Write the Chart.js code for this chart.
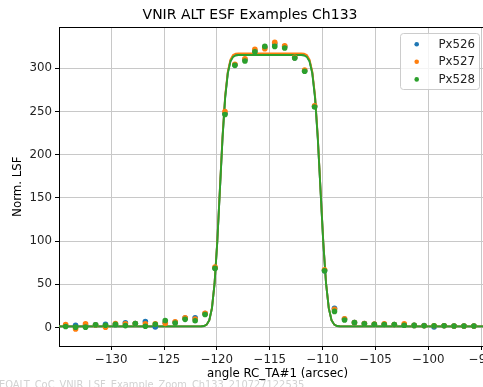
<!DOCTYPE html>
<html>
<head>
<meta charset="utf-8">
<title>VNIR ALT ESF Examples Ch133</title>
<script src="https://cdn.jsdelivr.net/npm/chart.js@4/dist/chart.umd.min.js"></script>
<style>
      html, body { margin: 0; padding: 0; background: #fff; overflow: hidden; }
      #wrap { width: 500px; height: 387px; }
</style>
</head>
<body>
<div id="wrap"><canvas id="esfChart" width="500" height="387"></canvas></div>
<script>
// Sample angles (arcsec) for the measured points
let sampleAngles = [
      -134.31, -133.37, -132.43, -131.48, -130.54, -129.60, -128.66, -127.72, -126.77, -125.83,
      -124.89, -123.95, -123.01, -122.06, -121.12, -120.18, -119.24, -118.30, -117.35, -116.41,
      -115.47, -114.53, -113.59, -112.64, -111.70, -110.76, -109.82, -108.88, -107.93, -106.99,
      -106.05, -105.11, -104.17, -103.22, -102.28, -101.34, -100.40, -99.46, -98.51, -97.57,
      -96.63, -95.69
];
let px526 = [
      2.0, 2.6, 2.5, 3.4, 4.0, 3.8, 5.6, 4.8, 7.2, 0.8,
      6.0, 6.2, 11.0, 11.5, 16.2, 69.0, 248.0, 304.0, 310.0, 320.0,
      324.0, 328.0, 325.0, 312.0, 297.0, 256.0, 66.0, 22.4, 10.0, 6.0,
      4.8, 4.0, 4.0, 3.6, 3.0, 2.6, 2.4, 0.8, 2.2, 2.0,
      2.0, 2.0
];
let px527 = [
      3.6, -1.4, 4.6, 3.0, 0.6, 4.8, 4.6, 4.8, 4.6, 4.6,
      5.0, 6.9, 11.5, 10.0, 16.7, 70.0, 250.0, 304.5, 311.0, 321.8,
      322.5, 329.9, 326.0, 312.5, 298.0, 256.4, 67.0, 21.2, 10.2, 6.0,
      4.8, 4.2, 4.6, 3.6, 4.6, 2.6, 2.2, 2.2, 2.2, 2.0,
      2.0, 2.0
];
let px528 = [
      1.4, 0.6, 0.6, 3.4, 2.8, 3.8, 2.4, 4.8, 1.7, 4.0,
      8.2, 5.4, 9.6, 8.0, 15.3, 68.5, 246.5, 303.3, 308.3, 319.0,
      325.2, 325.2, 323.3, 311.8, 296.4, 255.2, 65.8, 18.8, 8.8, 5.8,
      4.6, 4.0, 3.6, 3.6, 2.8, 2.6, 2.2, 2.2, 2.2, 2.0,
      2.0, 2.0
];

// Fitted ESF curves
let fitAngles = [
      -136, -121.47, -121.22, -120.97, -120.72, -120.47, -120.22, -119.97, -119.72, -119.47,
      -119.22, -118.97, -118.72, -118.47, -118.22, -117.97, -112.02, -111.76, -111.50, -111.24,
      -110.98, -110.72, -110.46, -110.20, -109.94, -109.68, -109.42, -109.16, -108.90, -108.64,
      -108.38, -93
];
let fit526 = [
      1.5, 1.6, 1.9, 3.5, 8.7, 22.6, 51.6, 98.8, 159.3, 219.7,
      266.9, 295.1, 308.9, 314.2, 315.8, 316.2, 316.2, 315.8, 314.2, 308.9,
      295.1, 266.9, 219.7, 159.3, 98.8, 51.6, 22.6, 8.7, 3.5, 1.9,
      1.6, 1.5
];
let fit527 = [
      1.5, 1.6, 1.9, 3.5, 8.7, 22.7, 51.8, 99.3, 160.0, 220.7,
      268.2, 296.0, 310.0, 315.3, 316.8, 317.2, 317.2, 316.8, 315.3, 310.0,
      296.0, 268.2, 220.7, 160.0, 99.3, 51.8, 22.7, 8.7, 3.5, 1.9,
      1.6, 1.5
];
let fit528 = [
      1.5, 1.6, 1.9, 3.5, 8.7, 22.5, 51.4, 98.5, 158.8, 219.0,
      266.1, 294.1, 307.8, 313.1, 314.7, 315.2, 315.2, 314.7, 313.1, 307.8,
      294.1, 266.1, 219.0, 158.8, 98.5, 51.4, 22.5, 8.7, 3.5, 1.9,
      1.6, 1.5
];

let seriesNames = ["Px526", "Px527", "Px528"];
let seriesColors = ["#1f77b4", "#ff7f0e", "#2ca02c"];
let yTickValues = [0, 50, 100, 150, 200, 250, 300];
let xTickValues = [-130, -125, -120, -115, -110, -105, -100, -95];

let fontFamily = "'DejaVu Sans', sans-serif";
let toPoints = (xs, ys) => xs.map((x, i) => ({ x: x, y: ys[i] }));

let pointSets = [px526, px527, px528];
let fitSets = [fit526, fit527, fit528];

let datasets = [];
pointSets.forEach((values, i) => {
      datasets.push({
            label: seriesNames[i],
            type: "scatter",
            data: toPoints(sampleAngles, values),
            backgroundColor: seriesColors[i],
            borderWidth: 0,
            pointRadius: 2.8,
            order: 2 - i
      });
});
fitSets.forEach((values, i) => {
      datasets.push({
            label: seriesNames[i] + " fit",
            type: "line",
            data: toPoints(fitAngles, values),
            borderColor: seriesColors[i],
            borderWidth: 1.9,
            pointRadius: 0,
            fill: false,
            order: 5 - i
      });
});

// Top spine, boxed legend and the file name stamp
let extras = {
      id: "extras",
      beforeDraw: (chart) => {
            let ctx = chart.ctx;
            ctx.save();
            ctx.font = "9.9px " + fontFamily;
            ctx.fillStyle = "#d2d2d2";
            ctx.textBaseline = "alphabetic";
            ctx.fillText("EOALT_CoC_VNIR_LSF_Example_Zoom_Ch133_210727122535", -1, 387.5);
            ctx.restore();
      },
      afterDraw: (chart) => {
            let ctx = chart.ctx;
            let area = chart.chartArea;
            ctx.save();
            ctx.strokeStyle = "#000";
            ctx.lineWidth = 1;
            ctx.beginPath();
            ctx.moveTo(area.left, Math.round(area.top) + 0.5);
            ctx.lineTo(area.right, Math.round(area.top) + 0.5);
            ctx.stroke();

            let bx = 400.5, by = 33.5, bw = 79, bh = 56;
            ctx.beginPath();
            ctx.roundRect(bx, by, bw, bh, 3);
            ctx.fillStyle = "rgba(255,255,255,0.8)";
            ctx.fill();
            ctx.strokeStyle = "#cccccc";
            ctx.stroke();
            ctx.font = "11.8px " + fontFamily;
            ctx.textBaseline = "middle";
            seriesNames.forEach((name, i) => {
                  let rowY = 44.2 + i * 17.6;
                  ctx.beginPath();
                  ctx.arc(416.7, rowY, 2.3, 0, Math.PI * 2);
                  ctx.fillStyle = seriesColors[i];
                  ctx.fill();
                  ctx.fillStyle = "#222";
                  ctx.fillText(name, 438.5, rowY + 0.5);
            });
            ctx.restore();
      }
};

let minusLabel = (v) => v < 0 ? "\u2212" + Math.abs(v) : String(v);

new Chart(document.getElementById("esfChart").getContext("2d"), {
      data: { datasets: datasets },
      options: {
            responsive: false,
            animation: false,
            devicePixelRatio: 1,
            layout: { padding: 0 },
            plugins: {
                  legend: { display: false },
                  tooltip: { enabled: false },
                  title: {
                        display: true,
                        text: "VNIR ALT ESF Examples Ch133",
                        color: "#000",
                        font: { family: fontFamily, size: 14, weight: "normal" },
                        padding: { top: 7, bottom: 3.5 }
                  }
            },
            scales: {
                  x: {
                        type: "linear",
                        min: -134.94,
                        max: -93.6,
                        afterFit: (scale) => { scale.height = 41; },
                        afterBuildTicks: (scale) => {
                              scale.ticks = xTickValues.map((v) => ({ value: v }));
                        },
                        ticks: {
                              color: "#222",
                              padding: 3,
                              maxRotation: 0,
                              font: { family: fontFamily, size: 11.8 },
                              callback: minusLabel
                        },
                        grid: { color: "#c8c8c8", lineWidth: 1, tickLength: 4, tickColor: "#000" },
                        border: { display: true, color: "#000", width: 1 },
                        title: {
                              display: true,
                              text: "angle RC_TA#1 (arcsec)",
                              color: "#000",
                              font: { family: fontFamily, size: 11.8 },
                              padding: { top: 0, bottom: 5.5 }
                        }
                  },
                  y: {
                        type: "linear",
                        min: -21.2,
                        max: 347.3,
                        afterFit: (scale) => { scale.width = 59; },
                        afterBuildTicks: (scale) => {
                              scale.ticks = yTickValues.map((v) => ({ value: v }));
                        },
                        ticks: {
                              color: "#222",
                              padding: 3,
                              font: { family: fontFamily, size: 11.8 },
                              callback: minusLabel
                        },
                        grid: { color: "#c8c8c8", lineWidth: 1, tickLength: 4, tickColor: "#000" },
                        border: { display: true, color: "#000", width: 1 },
                        title: {
                              display: true,
                              text: "Norm. LSF",
                              color: "#000",
                              font: { family: fontFamily, size: 11.8 },
                              padding: { top: 10.5, bottom: 0 }
                        }
                  }
            }
      },
      plugins: [extras]
});
</script>
</body>
</html>
